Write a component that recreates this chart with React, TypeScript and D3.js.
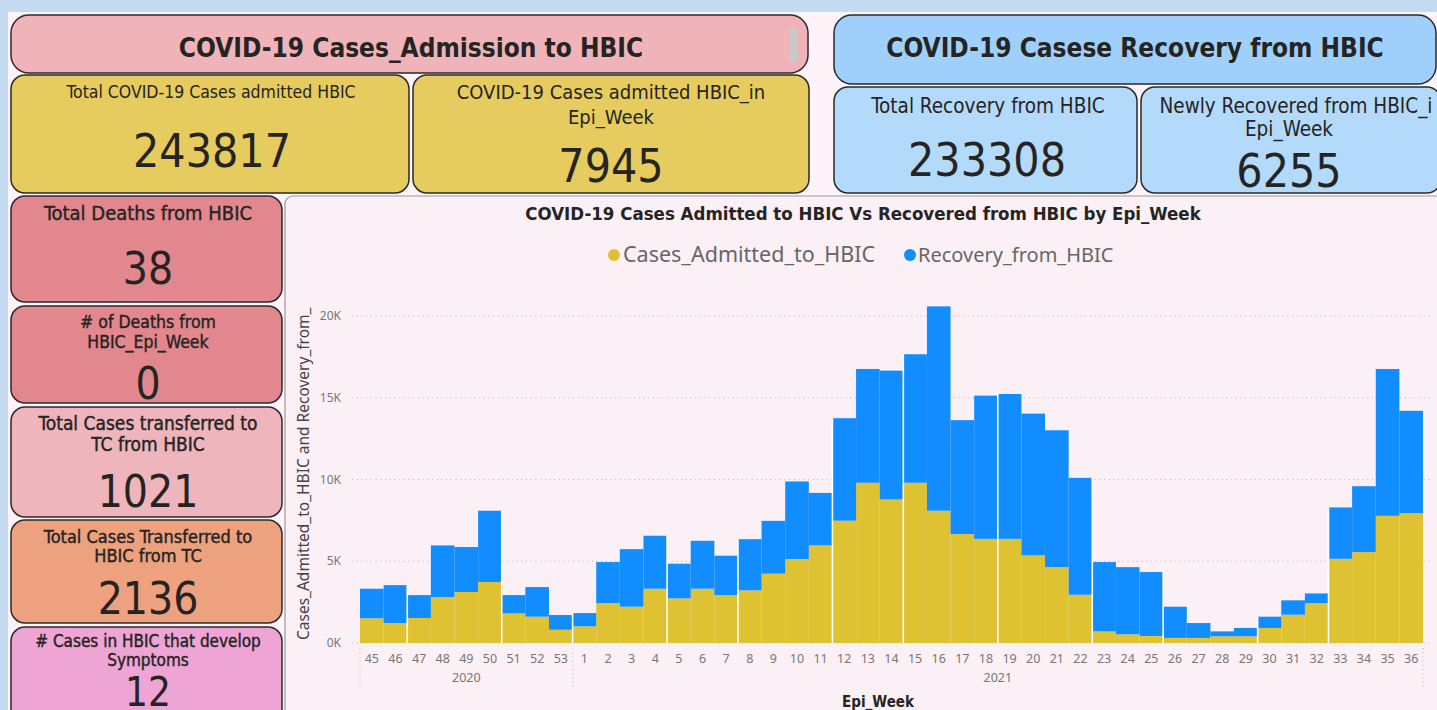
import React from "react";
import * as d3 from "d3";

const weeks2020 = ["45", "46", "47", "48", "49", "50", "51", "52", "53"];
const weeks2021 = ["1", "2", "3", "4", "5", "6", "7", "8", "9", "10", "11", "12", "13", "14", "15", "16", "17", "18", "19", "20", "21", "22", "23", "24", "25", "26", "27", "28", "29", "30", "31", "32", "33", "34", "35", "36"];

const admitted2020 = [1510, 1220, 1530, 2810, 3120, 3730, 1810, 1610, 810];
const admitted2021 = [1020, 2440, 2220, 3320, 2730, 3320, 2930, 3220, 4240, 5130, 5970, 7480, 9800, 8780, 9800, 8090, 6660, 6370, 6370, 5360, 4640, 2950, 710, 530, 430, 310, 310, 410, 410, 920, 1730, 2440, 5150, 5560, 7780, 7945];
const recovery2020 = [1810, 2320, 1400, 3160, 2750, 4360, 1120, 1810, 900];
const recovery2021 = [810, 2510, 3520, 3240, 2120, 2930, 2410, 3130, 3230, 4750, 3210, 6270, 6960, 7880, 7860, 12500, 6970, 8760, 8860, 8670, 8370, 7150, 4240, 4110, 3910, 1910, 910, 300, 510, 690, 880, 590, 3140, 4030, 8980, 6255];

const groupBreaksAfter = ["2020-46", "2020-50", "2020-53", "2021-4", "2021-7", "2021-11", "2021-14", "2021-18", "2021-22", "2021-25", "2021-29", "2021-32"];

const yTicks = [0, 5000, 10000, 15000, 20000];

const seriesNames = ["Cases_Admitted_to_HBIC", "Recovery_from_HBIC"];
const seriesColors = ["#dfc232", "#118dff"];

const DIN = "'DejaVu Sans Condensed', 'Liberation Sans Narrow', 'DejaVu Sans', sans-serif";
const SEGOE = "'Noto Sans', 'Open Sans', sans-serif";
const TXT = "#252423";

type Row = { key: string; week: string; year: string; admitted: number; recovery: number };

const rows: Row[] = [
  ...weeks2020.map((w, i) => ({ key: "2020-" + w, week: w, year: "2020", admitted: admitted2020[i], recovery: recovery2020[i] })),
  ...weeks2021.map((w, i) => ({ key: "2021-" + w, week: w, year: "2021", admitted: admitted2021[i], recovery: recovery2021[i] })),
];

function Card(props: { x: number; y: number; w: number; h: number; fill: string; rx?: number }) {
  return (
    <rect x={props.x} y={props.y} width={props.w} height={props.h} rx={props.rx ?? 14} ry={props.rx ?? 14}
      fill={props.fill} stroke="#2a2a2a" strokeWidth={1.5} />
  );
}

function T(props: { x: number; y: number; size: number; children: any; weight?: any; fill?: string; font?: string; anchor?: string; heavy?: boolean }) {
  return (
    <text x={props.x} y={props.y} fontSize={props.size} fontFamily={props.font ?? DIN}
      fontWeight={props.weight ?? "normal"} fill={props.fill ?? TXT} textAnchor={(props.anchor as any) ?? "middle"}
      stroke={props.heavy ? (props.fill ?? TXT) : "none"} strokeWidth={props.heavy ? 0.4 : 0}
      style={{ fontStretch: "condensed" }}>
      {props.children}
    </text>
  );
}

export default function App() {
  const W = 1437, H = 710;
  const x = d3.scaleBand<string>().domain(rows.map((r) => r.key)).range([360, 1423]).padding(0);
  const y = d3.scaleLinear().domain([0, 20000]).range([643, 316]);
  const stack = d3.stack<Row>().keys(["admitted", "recovery"]);
  const layers = stack(rows);

  const year2020Keys = rows.filter((r) => r.year === "2020").map((r) => r.key);
  const year2021Keys = rows.filter((r) => r.year === "2021").map((r) => r.key);
  const yr2020Start = x(year2020Keys[0])!;
  const yr2020End = x(year2020Keys[year2020Keys.length - 1])! + x.bandwidth();
  const yr2021End = x(year2021Keys[year2021Keys.length - 1])! + x.bandwidth();

  return (
    <svg width={W} height={H} style={{ position: "absolute", left: 0, top: 0, display: "block" }}>
      <rect x={0} y={0} width={W} height={H} fill="#fdf3f8" />
      <rect x={0} y={0} width={W} height={12} fill="#c3daf0" />
      <rect x={0} y={0} width={8} height={H} fill="#c3daf0" />

      {/* Left header */}
      <Card x={11} y={15} w={797} h={58} fill="#efb3b9" rx={18} />
      <rect x={789} y={28} width={8} height={33} fill="#c8c8c8" />
      <T x={411} y={57} size={26} weight="bold">COVID-19 Cases_Admission to HBIC</T>

      <Card x={11} y={75} w={398} h={118} fill="#e6cb5e" />
      <T x={211} y={98} size={17.5}>Total COVID-19 Cases admitted HBIC</T>
      <T x={212} y={167} size={46}>243817</T>

      <Card x={413} y={75} w={396} h={118} fill="#e6cb5e" />
      <T x={611} y={99} size={20}>COVID-19 Cases admitted HBIC_in</T>
      <T x={611} y={124} size={20}>Epi_Week</T>
      <T x={611} y={182} size={46}>7945</T>

      {/* Right header */}
      <Card x={834} y={15} w={602} h={69} fill="#9fd0fb" rx={18} />
      <T x={1135} y={57} size={26} weight="bold">COVID-19 Casese Recovery from HBIC</T>

      <Card x={834} y={87} w={303} h={106} fill="#b3dafb" />
      <T x={988} y={113} size={20.5}>Total Recovery from HBIC</T>
      <T x={987} y={176} size={46}>233308</T>

      <Card x={1141} y={87} w={300} h={106} fill="#b3dafb" />
      <T x={1296} y={113} size={20.5}>Newly Recovered from HBIC_i</T>
      <T x={1289} y={136} size={20.5}>Epi_Week</T>
      <T x={1289} y={187} size={46}>6255</T>

      {/* Left column */}
      <Card x={11} y={196} w={271} h={106} fill="#e3878f" />
      <T x={148} y={220} size={20} heavy>Total Deaths from HBIC</T>
      <T x={148} y={284} size={44}>38</T>

      <Card x={11} y={306} w={271} h={97} fill="#e3878f" />
      <T x={148} y={328} size={17.5} heavy># of Deaths from</T>
      <T x={148} y={348} size={17.5} heavy>HBIC_Epi_Week</T>
      <T x={148} y={399} size={44}>0</T>

      <Card x={11} y={407} w={271} h={110} fill="#efb5bc" />
      <T x={148} y={430} size={19} heavy>Total Cases transferred to</T>
      <T x={148} y={451} size={19} heavy>TC from HBIC</T>
      <T x={148} y={507} size={44}>1021</T>

      <Card x={11} y={520} w={271} h={103} fill="#eda17f" />
      <T x={148} y={543} size={18} heavy>Total Cases Transferred to</T>
      <T x={148} y={562} size={18} heavy>HBIC from TC</T>
      <T x={148} y={614} size={44}>2136</T>

      <Card x={11} y={627} w={271} h={100} fill="#eea5d5" />
      <T x={148} y={647} size={17} heavy># Cases in HBIC that develop</T>
      <T x={148} y={666} size={17} heavy>Symptoms</T>
      <T x={148} y={706} size={40}>12</T>

      {/* Chart panel */}
      <rect x={285} y={196} width={1170} height={530} rx={8} fill="#fbf0f5" stroke="#9a9a9a" strokeWidth={1.2} />
      <T x={863} y={220} size={18.5} weight="bold">COVID-19 Cases Admitted to HBIC Vs Recovered from HBIC by Epi_Week</T>

      {/* Legend */}
      <circle cx={614} cy={255} r={6} fill={seriesColors[0]} />
      <text x={623} y={262} fontSize={21.5} fontFamily={SEGOE} fill="#666">{seriesNames[0]}</text>
      <circle cx={910} cy={255} r={6} fill={seriesColors[1]} />
      <text x={918} y={262} fontSize={20} fontFamily={SEGOE} fill="#666">{seriesNames[1]}</text>

      {/* Gridlines + y labels */}
      {yTicks.map((t) => (
        <g key={t}>
          <line x1={352} x2={1432} y1={y(t)} y2={y(t)} stroke="#bdbdbd" strokeWidth={1.2} strokeDasharray="1.2 3.5" />
          <text x={341} y={y(t) + 4} fontSize={12} fontFamily={SEGOE} fill="#777" textAnchor="end">{(t / 1000) + "K"}</text>
        </g>
      ))}

      {/* Y axis title */}
      <text transform={`translate(309, 640) rotate(-90)`} fontSize={15.5} fontFamily={SEGOE} fill="#444">
        Cases_Admitted_to_HBIC and Recovery_from_
      </text>

      {/* Bars */}
      {layers.map((layer, li) => (
        <g key={li} fill={seriesColors[li]}>
          {layer.map((d) => (
            <rect key={d.data.key} x={x(d.data.key)!} y={y(d[1])} width={x.bandwidth()} height={y(d[0]) - y(d[1])} />
          ))}
        </g>
      ))}

      {/* Group separators */}
      {groupBreaksAfter.map((k) => {
        const i = rows.findIndex((r) => r.key === k);
        const a = rows[i], b = rows[i + 1];
        const top = Math.max(a.admitted + a.recovery, b ? b.admitted + b.recovery : 0);
        const xx = x(k)! + x.bandwidth();
        return <line key={k} x1={xx} x2={xx} y1={y(top)} y2={y(0)} stroke="#ffffff" strokeWidth={1.6} />;
      })}

      {/* X labels */}
      {rows.map((r) => (
        <text key={r.key} x={x(r.key)! + x.bandwidth() / 2} y={663} fontSize={12.5} fontFamily={SEGOE} fill="#777" textAnchor="middle">{r.week}</text>
      ))}
      {[yr2020Start, yr2020End, yr2021End].map((xx, i) => (
        <line key={i} x1={xx} x2={xx} y1={648} y2={690} stroke="#c8c8c8" strokeWidth={1.2} strokeDasharray="1.2 3" />
      ))}
      <text x={(yr2020Start + yr2020End) / 2} y={682} fontSize={12.5} fontFamily={SEGOE} fill="#777" textAnchor="middle">2020</text>
      <text x={(yr2020End + yr2021End) / 2} y={682} fontSize={12.5} fontFamily={SEGOE} fill="#777" textAnchor="middle">2021</text>

      <T x={878} y={707} size={15} weight="bold">Epi_Week</T>
    </svg>
  );
}
